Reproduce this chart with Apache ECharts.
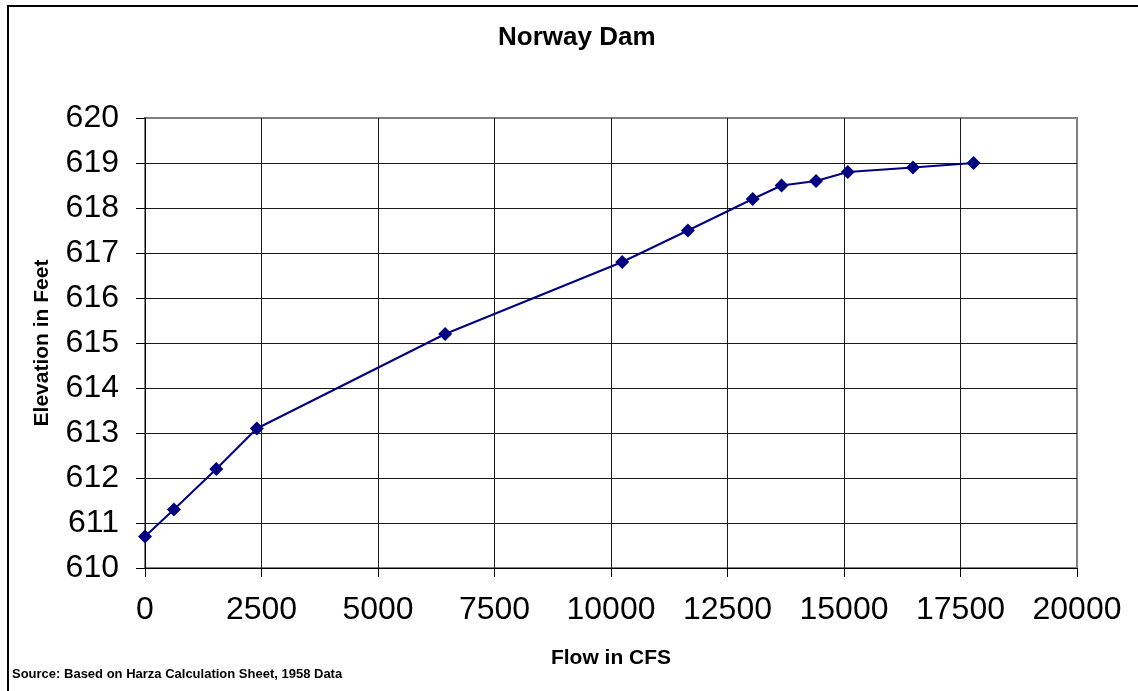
<!DOCTYPE html>
<html>
<head>
<meta charset="utf-8">
<script src="https://cdn.jsdelivr.net/npm/echarts@6/dist/echarts.min.js"></script>
<style>
html,body{margin:0;padding:0;background:#fff;}
#chart{width:1138px;height:691px;}
</style>
</head>
<body>
<div id="chart"></div>
<script>
const flowCFS = [0, 620, 1530, 2400, 6440, 10240, 11650, 13040, 13660, 14400, 15080, 16480, 17780];
const elevationFt = [610.7, 611.3, 612.2, 613.1, 615.2, 616.8, 617.5, 618.2, 618.5, 618.6, 618.8, 618.9, 619.0];
const xTicks = [0, 2500, 5000, 7500, 10000, 12500, 15000, 17500, 20000];
const yTicks = [610, 611, 612, 613, 614, 615, 616, 617, 618, 619, 620];
const titleText = 'Norway Dam';
const xTitle = 'Flow in CFS';
const yTitle = 'Elevation in Feet';
const sourceText = 'Source: Based on Harza Calculation Sheet, 1958 Data';

const FONT = '"Liberation Sans", Arial, sans-serif';
const points = flowCFS.map((x, i) => [x, elevationFt[i]]);

const xSplitColors = xTicks.map((t, i) => i === xTicks.length - 1 ? '#808080' : '#1a1a1a');
const ySplitColors = yTicks.map((t, i) => i === yTicks.length - 1 ? '#808080' : '#1a1a1a');

const chart = echarts.init(document.getElementById('chart'), null, {renderer: 'canvas'});
chart.setOption({
  backgroundColor: '#fff',
  animation: false,
  title: {
    text: titleText,
    left: 498,
    top: 25,
    padding: 0,
    textStyle: {fontFamily: FONT, fontWeight: 'bold', fontSize: 26, color: '#000'}
  },
  grid: {
    left: 145, right: 61, top: 118, bottom: 123,
    show: true, borderColor: '#808080', borderWidth: 2, backgroundColor: '#fff'
  },
  xAxis: {
    type: 'value',
    min: xTicks[0], max: xTicks[xTicks.length - 1], interval: 2500,
    axisLine: {show: true, onZero: false, lineStyle: {color: '#000', width: 1}},
    axisTick: {show: true, inside: false, length: 9, lineStyle: {color: '#000'}},
    axisLabel: {margin: 26, fontFamily: FONT, fontSize: 32, color: '#000', formatter: v => String(v)},
    splitLine: {show: true, lineStyle: {color: xSplitColors, width: 1}}
  },
  yAxis: {
    type: 'value',
    min: yTicks[0], max: yTicks[yTicks.length - 1], interval: 1,
    axisLine: {show: true, onZero: false, lineStyle: {color: '#000', width: 1}},
    axisTick: {show: true, inside: false, length: 9, lineStyle: {color: '#000'}},
    axisLabel: {margin: 26, fontFamily: FONT, fontSize: 32, color: '#000', formatter: v => String(v)},
    splitLine: {show: true, lineStyle: {color: ySplitColors, width: 1}}
  },
  graphic: [
    {type: 'rect', silent: true, z: -10, shape: {x: 8, y: 6, width: 1150, height: 720},
     style: {fill: 'none', stroke: '#000', lineWidth: 2}},
    {type: 'text', x: 611, y: 658, style: {text: xTitle, font: 'bold 21px ' + FONT, textAlign: 'center', textVerticalAlign: 'middle', fill: '#000'}},
    {type: 'text', x: 42, y: 343, rotation: Math.PI / 2, style: {text: yTitle, font: 'bold 21px ' + FONT, textAlign: 'center', textVerticalAlign: 'middle', fill: '#000'}},
    {type: 'text', x: 12, y: 674, style: {text: sourceText, font: 'bold 13px ' + FONT, textAlign: 'left', textVerticalAlign: 'middle', fill: '#000'}}
  ],
  series: [{
    type: 'line',
    data: points,
    symbol: 'diamond',
    symbolSize: 14,
    lineStyle: {color: '#000080', width: 2},
    itemStyle: {color: '#000080'},
    z: 5
  }]
});
</script>
</body>
</html>
